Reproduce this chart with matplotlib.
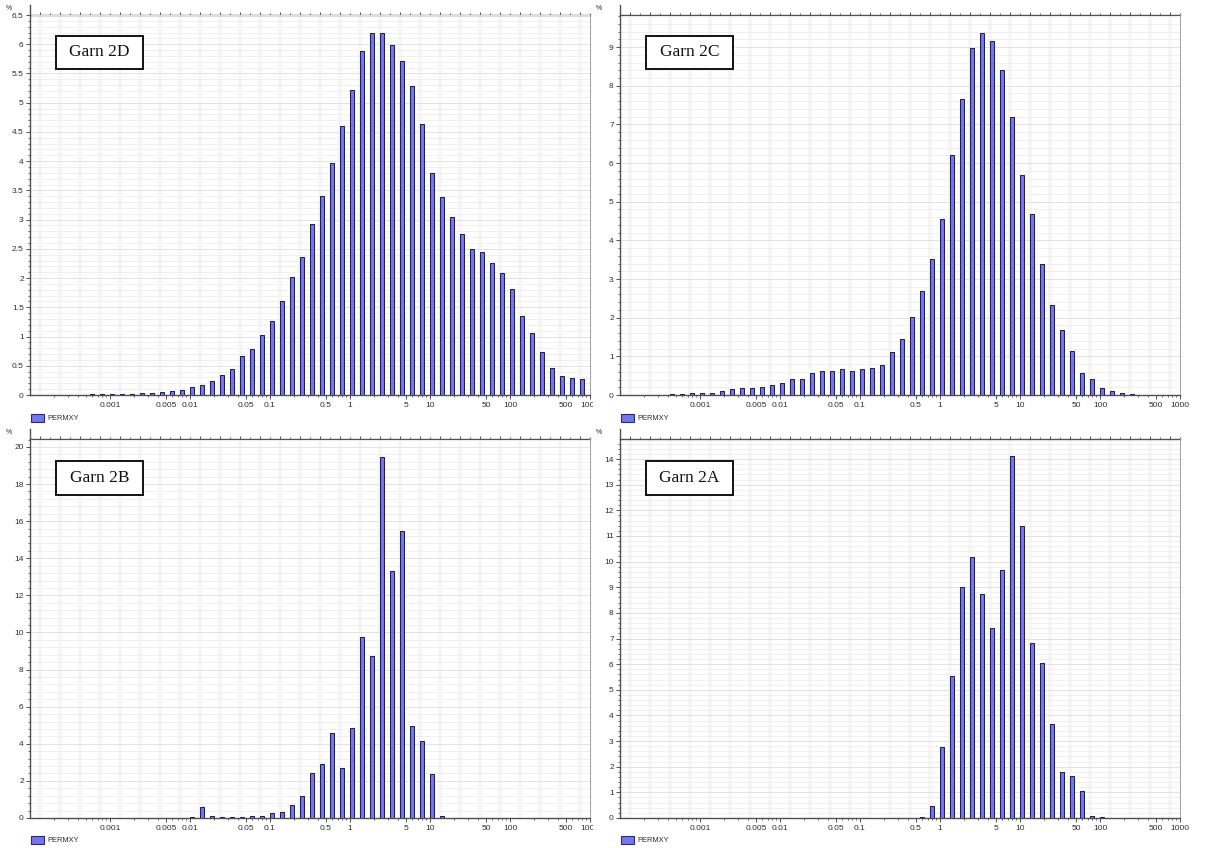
import matplotlib
matplotlib.use('Agg')
import matplotlib.pyplot as plt
import numpy as np
from matplotlib.patches import Rectangle
from matplotlib.lines import Line2D
from matplotlib.ticker import FixedLocator, MultipleLocator, NullFormatter, LogLocator
from matplotlib.transforms import Bbox, TransformedBbox

plt.rcParams['font.family'] = ['Liberation Sans', 'DejaVu Sans']

W, H = 1205, 848

# PERMXY histogram classes: 8 per decade, class k starts at 10**(k/8) mD
garn_2d_first = -28
garn_2d_pct = [0.005, 0.008, 0.01, 0.012, 0.015, 0.02, 0.025, 0.03, 0.035, 0.05,
               0.07, 0.09, 0.13, 0.17, 0.24, 0.34, 0.44, 0.66, 0.78, 1.02,
               1.27, 1.60, 2.02, 2.36, 2.92, 3.40, 3.96, 4.60, 5.21, 5.89,
               6.20, 6.20, 5.98, 5.71, 5.28, 4.64, 3.80, 3.38, 3.05, 2.75,
               2.50, 2.45, 2.25, 2.09, 1.81, 1.35, 1.06, 0.73, 0.47, 0.33,
               0.29, 0.28]

garn_2c_first = -27
garn_2c_pct = [0.02, 0.03, 0.04, 0.055, 0.06, 0.10, 0.165, 0.18, 0.18, 0.21,
               0.255, 0.32, 0.425, 0.405, 0.565, 0.63, 0.63, 0.68, 0.63, 0.67,
               0.70, 0.78, 1.11, 1.46, 2.03, 2.70, 3.51, 4.55, 6.22, 7.66,
               8.98, 9.36, 9.17, 8.40, 7.18, 5.70, 4.68, 3.38, 2.34, 1.68,
               1.15, 0.58, 0.41, 0.19, 0.11, 0.04, 0.02]

garn_2b_first = -16
garn_2b_pct = [0.04, 0.59, 0.09, 0.05, 0.07, 0.07, 0.09, 0.13, 0.27, 0.31,
               0.68, 1.19, 2.41, 2.90, 4.58, 2.68, 4.85, 9.75, 8.74, 19.48,
               13.30, 15.48, 4.97, 4.14, 2.38, 0.11]

garn_2a_first = -2
garn_2a_pct = [0.03, 0.46, 2.76, 5.55, 9.02, 10.17, 8.74, 7.40, 9.67, 14.12,
               11.37, 6.84, 6.03, 3.65, 1.78, 1.64, 1.05, 0.08, 0.02]

x_tick_values = [0.001, 0.005, 0.01, 0.05, 0.1, 0.5, 1, 5, 10, 50, 100, 500, 1000]
x_tick_labels = ['0.001', '0.005', '0.01', '0.05', '0.1', '0.5', '1', '5', '10',
                 '50', '100', '500', '1000']

BAR_FACE = '#7676ee'
BAR_EDGE = '#20204a'
AXIS_COL = '#505050'
TEXT_COL = '#2e2e2e'


def px_rect(x0, y0, x1, y1):
    """pixel box (top-left origin) -> figure fraction [left, bottom, w, h]"""
    return [x0 / W, 1 - y1 / H, (x1 - x0) / W, (y1 - y0) / H]


def draw_panel(fig, box, first, pct, ymax, ystep, yminor, name, name_box,
               legend_y, pct_y, clip_right=None):
    ax = fig.add_axes(px_rect(*box))
    ax.set_xscale('log')
    ax.set_xlim(1e-4, 1e3)
    ax.set_ylim(0, ymax)

    k = np.arange(first, first + len(pct))
    left = 10.0 ** (k / 8)
    right = 10.0 ** (k / 8 + 0.048)
    ax.bar(left, pct, width=right - left, align='edge',
           color=BAR_FACE, edgecolor=BAR_EDGE, linewidth=0.75, zorder=3)

    # y axis
    ax.yaxis.set_major_locator(MultipleLocator(ystep))
    ax.yaxis.set_minor_locator(MultipleLocator(yminor))
    ax.yaxis.set_major_formatter(plt.FuncFormatter(lambda v, _: f'{v:g}'))
    ax.tick_params(axis='y', which='major', length=3, width=0.7, color=AXIS_COL,
                   labelsize=6, labelcolor=TEXT_COL, pad=1.5)
    ax.tick_params(axis='y', which='minor', length=1.6, width=0.6, color=AXIS_COL)

    # x axis
    ax.xaxis.set_major_locator(FixedLocator(x_tick_values))
    ax.set_xticklabels(x_tick_labels)
    ax.xaxis.set_minor_locator(LogLocator(base=10, subs=np.arange(2, 10)))
    ax.xaxis.set_minor_formatter(NullFormatter())
    ax.tick_params(axis='x', which='major', length=3, width=0.7, color=AXIS_COL,
                   labelsize=6, labelcolor=TEXT_COL, pad=2)
    ax.tick_params(axis='x', which='minor', length=1.6, width=0.6, color=AXIS_COL)

    # top axis: one tick per class boundary
    top = ax.secondary_xaxis('top')
    n = np.arange(0, 57)
    top.xaxis.set_major_locator(FixedLocator(10.0 ** (-4 + n[1::2] / 8)))
    top.xaxis.set_minor_locator(FixedLocator(10.0 ** (-4 + n[2::2] / 8)))
    top.xaxis.set_major_formatter(NullFormatter())
    top.xaxis.set_minor_formatter(NullFormatter())
    top.tick_params(which='major', length=2.5, width=0.7, color=AXIS_COL)
    top.tick_params(which='minor', length=1.2, width=0.6, color=AXIS_COL)
    top.spines['top'].set_color(AXIS_COL)
    top.spines['top'].set_linewidth(1.0)

    # light grid
    ax.grid(True, axis='y', which='major', color='#e2e2e2', linewidth=0.7, zorder=0)
    ax.grid(True, axis='y', which='minor', color='#eeeeee', linewidth=0.6, zorder=0)
    for i in range(1, 57, 2):
        ax.axvline(10.0 ** (-4 + i / 8), color='#f7f7f7', linewidth=3.0, zorder=0)

    for s in ('left', 'bottom'):
        ax.spines[s].set_color(AXIS_COL)
        ax.spines[s].set_linewidth(1.0)
    ax.spines['top'].set_visible(False)
    ax.spines['right'].set_color('#a8a8a8')
    ax.spines['right'].set_linewidth(0.8)

    # left axis line runs a bit above the frame
    x0, y0 = box[0], box[1]
    fig.add_artist(Line2D([x0 / W, x0 / W], [1 - (y0 - 10) / H, 1 - y0 / H],
                          color=AXIS_COL, linewidth=1.0))

    if clip_right is not None:
        clip = TransformedBbox(Bbox([[0, 0], [clip_right / W, 1]]), fig.transFigure)
        for t in ax.xaxis.get_major_ticks():
            t.label1.set_clip_box(clip)
            t.label1.set_clip_on(True)

    # formation name box
    bx0, by0, bx1, by1 = name_box
    fig.add_artist(Rectangle((bx0 / W, 1 - by1 / H), (bx1 - bx0) / W, (by1 - by0) / H,
                             transform=fig.transFigure, facecolor='white',
                             edgecolor='#111111', linewidth=1.4, zorder=5))
    fig.text((bx0 + bx1) / 2 / W, 1 - (by0 + by1) / 2 / H, name,
             family='Liberation Serif', fontsize=12.5, color='#111111',
             ha='center', va='center', zorder=6)

    # legend under the axis
    fig.add_artist(Rectangle(((box[0] + 1) / W, 1 - (legend_y + 8) / H),
                             13 / W, 8 / H, transform=fig.transFigure,
                             facecolor=BAR_FACE, edgecolor='#2a2a70', linewidth=0.8))
    fig.text((box[0] + 17) / W, 1 - (legend_y + 4) / H, 'PERMXY', fontsize=5.4,
             color=TEXT_COL, ha='left', va='center')

    fig.text((box[0] - 24) / W, 1 - pct_y / H, '%', fontsize=5, color=TEXT_COL,
             ha='left', va='center')
    return ax


fig = plt.figure(figsize=(W / 100, H / 100), dpi=100)
fig.patch.set_facecolor('white')

draw_panel(fig, (30, 15, 590, 395), garn_2d_first, garn_2d_pct, 6.5, 0.5, 0.1,
           'Garn 2D', (56, 36, 143, 69), 414, 9, clip_right=593)
draw_panel(fig, (620, 15, 1180, 395), garn_2c_first, garn_2c_pct, 9.83, 1, 0.2,
           'Garn 2C', (646, 36, 733, 69), 414, 9)
draw_panel(fig, (30, 439, 590, 818), garn_2b_first, garn_2b_pct, 20.43, 2, 0.4,
           'Garn 2B', (56, 461, 143, 495), 836, 433, clip_right=593)
draw_panel(fig, (620, 439, 1180, 818), garn_2a_first, garn_2a_pct, 14.78, 1, 0.2,
           'Garn 2A', (646, 461, 733, 495), 836, 433)

fig.savefig('out.png', dpi=100, facecolor='white')
